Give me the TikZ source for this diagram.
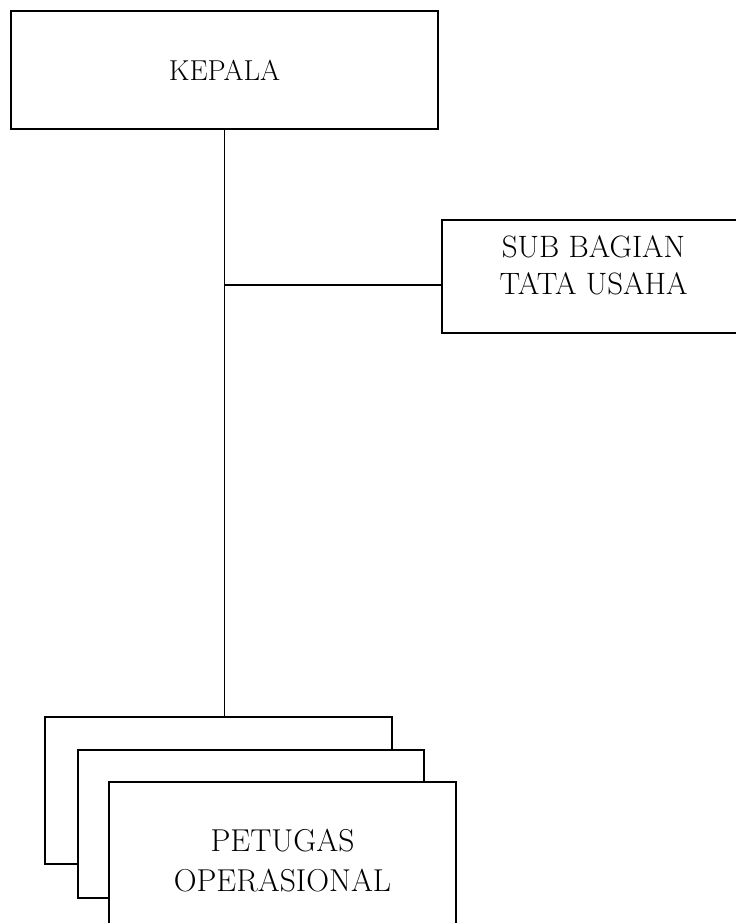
\documentclass[tikz,border=0pt]{standalone}
\tikzset{kotak/.style={draw, line width=1.1pt, fill=white, align=center, inner sep=0pt, font=\fontsize{21}{27}\selectfont}}

\begin{document}
\begin{tikzpicture}[x=0.025cm, y=-0.025cm]
    \clip (0,0) rectangle (736,923);
    \node[kotak, minimum width=10.675cm, minimum height=2.95cm, font=\fontsize{20.5}{27}\selectfont] (kepala) at (224.5,70) {KEPALA};
    \node[kotak, minimum width=7.575cm, minimum height=2.825cm, font=\fontsize{22}{26.3}\selectfont, text depth=15.6pt] (sub) at (593.5,276.5) {SUB BAGIAN\\TATA USAHA};
    % tumpukan petugas
    \node[kotak, minimum width=8.675cm, minimum height=3.675cm] (ops1) at (218.5,790.5) {};
    \node[kotak, minimum width=8.65cm, minimum height=3.7cm] (ops2) at (251,824) {};
    \node[kotak, minimum width=8.675cm, minimum height=3.95cm, font=\fontsize{22.5}{28.5}\selectfont] (ops3) at (282.5,861) {PETUGAS\\OPERASIONAL};
    \coordinate (cabang) at (kepala.south |- 0,285);
    \draw[line width=1pt] (kepala.south) -- (kepala.south |- ops1.north);
    \draw[line width=1pt] (cabang) -- (sub.west |- cabang);
\end{tikzpicture}
\end{document}
